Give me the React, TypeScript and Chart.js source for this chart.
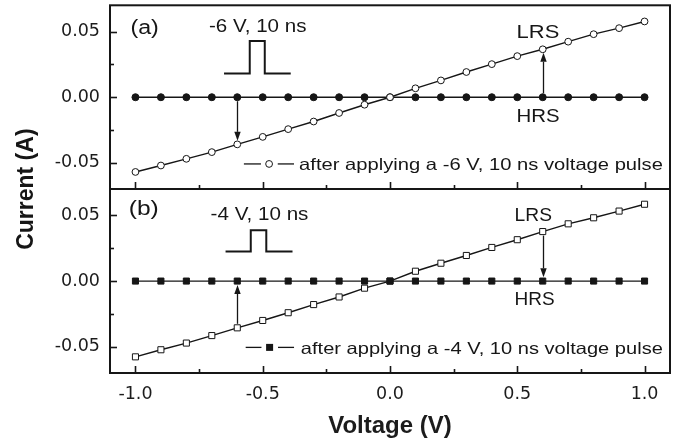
import React, { useEffect, useRef } from 'react';
import { Chart, registerables } from 'chart.js';

Chart.register(...registerables);

// ---------- data ----------
const voltage = [-1.0, -0.9, -0.8, -0.7, -0.6, -0.5, -0.4, -0.3, -0.2, -0.1, 0.0, 0.1, 0.2, 0.3, 0.4, 0.5, 0.6, 0.7, 0.8, 0.9, 1.0];
const lrsA = [-0.0569, -0.0520, -0.0469, -0.0418, -0.0359, -0.0302, -0.0243, -0.0185, -0.0120, -0.0057, 0.0000, 0.0068, 0.0128, 0.0192, 0.0252, 0.0313, 0.0365, 0.0423, 0.0480, 0.0526, 0.0577];
const hrsA = [0, 0, 0, 0, 0, 0, 0, 0, 0, 0, 0, 0, 0, 0, 0, 0, 0, 0, 0, 0, 0];
const lrsB = [-0.0577, -0.0523, -0.0472, -0.0415, -0.0356, -0.0300, -0.0241, -0.0179, -0.0121, -0.0054, 0.0000, 0.0075, 0.0136, 0.0195, 0.0256, 0.0315, 0.0377, 0.0436, 0.0482, 0.0533, 0.0585];
const hrsB = [0, 0, 0, 0, 0, 0, 0, 0, 0, 0, 0, 0, 0, 0, 0, 0, 0, 0, 0, 0, 0];
const pulseAX = [-0.652, -0.551, -0.551, -0.492, -0.492, -0.390];
const pulseAY = [0.018, 0.018, 0.0428, 0.0428, 0.018, 0.018];
const pulseBX = [-0.646, -0.547, -0.547, -0.486, -0.486, -0.383];
const pulseBY = [0.0225, 0.0225, 0.0387, 0.0387, 0.0225, 0.0225];
const xMajorTicks = [-1, -0.5, 0, 0.5, 1];
const xMinorTicks = [-0.75, -0.25, 0.25, 0.75];
const yMajorTicks = [-0.05, 0, 0.05];
const yMinorTicks = [-0.025, 0.025];
const arrowVoltages = [-0.6, 0.6];
const pulseLabelA = '-6 V, 10 ns';
const pulseLabelB = '-4 V, 10 ns';
const legendA = 'after applying a -6 V, 10 ns voltage pulse';
const legendB = 'after applying a -4 V, 10 ns voltage pulse';

const INK = '#161616';
const FONT = '"Liberation Sans", Arial, sans-serif';

const pts = (xs: number[], ys: number[]) => xs.map((x, i) => ({ x, y: ys[i] }));

const decorPlugin = {
  id: 'decor',
  afterDraw(chart: any) {
    const { ctx, chartArea: ca, scales } = chart;
    const sx = scales.x;
    const yA = scales.yA;
    const yB = scales.yB;
    const X = (v: number) => sx.getPixelForValue(v);
    ctx.save();
    ctx.strokeStyle = INK;
    ctx.fillStyle = INK;

    // ticks (inward)
    ctx.lineWidth = 1.6;
    const tick = (x1: number, y1: number, x2: number, y2: number) => {
      ctx.beginPath();
      ctx.moveTo(x1, y1);
      ctx.lineTo(x2, y2);
      ctx.stroke();
    };
    for (const p of [yA, yB]) {
      const bottom = Math.round(p.bottom);
      xMajorTicks.forEach((v) => { const px = Math.round(X(v)) + 0.5; tick(px, bottom, px, bottom - 7); });
      xMinorTicks.forEach((v) => { const px = Math.round(X(v)) + 0.5; tick(px, bottom, px, bottom - 4); });
      yMajorTicks.forEach((v) => { const py = Math.round(p.getPixelForValue(v)) + 0.5; tick(ca.left, py, ca.left + 7, py); });
      yMinorTicks.forEach((v) => { const py = Math.round(p.getPixelForValue(v)) + 0.5; tick(ca.left, py, ca.left + 4, py); });
    }

    // frame and divider
    ctx.lineWidth = 2;
    ctx.strokeRect(ca.left, ca.top, ca.right - ca.left, ca.bottom - ca.top);
    ctx.beginPath();
    ctx.moveTo(ca.left, Math.round(yA.bottom));
    ctx.lineTo(ca.right, Math.round(yA.bottom));
    ctx.stroke();

    // arrows
    const arrow = (px: number, y0: number, y1: number) => {
      const dir = Math.sign(y1 - y0);
      const head = 9;
      ctx.lineWidth = 1.3;
      ctx.beginPath();
      ctx.moveTo(px, y0);
      ctx.lineTo(px, y1 - dir * head);
      ctx.stroke();
      ctx.beginPath();
      ctx.moveTo(px, y1);
      ctx.lineTo(px - 3.2, y1 - dir * head);
      ctx.lineTo(px + 3.2, y1 - dir * head);
      ctx.closePath();
      ctx.fill();
    };
    arrowVoltages.forEach((v) => {
      const i = voltage.indexOf(v);
      const px = Math.round(X(v)) + 0.5;
      const hA = yA.getPixelForValue(hrsA[i]);
      const lA = yA.getPixelForValue(lrsA[i]);
      const dA = Math.sign(lA - hA);
      arrow(px, hA + dA * 4, lA - dA * 3.5);
      const hB = yB.getPixelForValue(hrsB[i]);
      const lB = yB.getPixelForValue(lrsB[i]);
      const dB = Math.sign(hB - lB);
      arrow(px, lB + dB * 4, hB - dB * 3.8);
    });

    // text fitted between two x values
    const text = (s: string, x0: number, x1: number, py: number, size: number, bold = false) => {
      ctx.save();
      ctx.font = `${bold ? 'bold ' : ''}${size}px ${FONT}`;
      ctx.textBaseline = 'alphabetic';
      ctx.textAlign = 'left';
      const left = X(x0);
      const w = X(x1) - left;
      const m = ctx.measureText(s).width;
      ctx.translate(left, py);
      ctx.scale(w / m, 1);
      ctx.fillText(s, 0, 0);
      ctx.restore();
    };
    text('(a)', -1.0197, -0.9083, yA.getPixelForValue(0.0482), 20);
    text(pulseLabelA, -0.7114, -0.3283, yA.getPixelForValue(0.05), 18.5);
    text('LRS', 0.4972, 0.665, yA.getPixelForValue(0.0449), 18.5);
    text('HRS', 0.4972, 0.6665, yA.getPixelForValue(-0.0192), 18.5);
    text(legendA, -0.3571, 1.072, yA.getPixelForValue(-0.0551), 16.5);
    text('(b)', -1.0264, -0.9083, yB.getPixelForValue(0.05), 20);
    text(pulseLabelB, -0.7047, -0.3205, yB.getPixelForValue(0.0464), 18.5);
    text('LRS', 0.4894, 0.6362, yB.getPixelForValue(0.0456), 18.5);
    text('HRS', 0.4894, 0.6469, yB.getPixelForValue(-0.0185), 18.5);
    text(legendB, -0.3504, 1.072, yB.getPixelForValue(-0.0556), 16.5);

    // legend symbols
    ctx.lineWidth = 1.3;
    const seg = (a: number, b: number, py: number) => {
      ctx.beginPath();
      ctx.moveTo(X(a), py);
      ctx.lineTo(X(b), py);
      ctx.stroke();
    };
    const lyA = yA.getPixelForValue(-0.0508);
    seg(-0.574, -0.507, lyA);
    seg(-0.441, -0.377, lyA);
    ctx.lineWidth = 1;
    ctx.beginPath();
    ctx.arc(X(-0.475), lyA, 3.4, 0, Math.PI * 2);
    ctx.fillStyle = '#fff';
    ctx.fill();
    ctx.stroke();
    ctx.fillStyle = INK;
    ctx.lineWidth = 1.3;
    const lyB = yB.getPixelForValue(-0.0505);
    seg(-0.567, -0.505, lyB);
    seg(-0.44, -0.377, lyB);
    ctx.fillRect(X(-0.473) - 3.5, lyB - 3.5, 7, 7);

    // y axis title
    ctx.save();
    ctx.font = `bold 23px ${FONT}`;
    ctx.textAlign = 'center';
    ctx.textBaseline = 'alphabetic';
    ctx.translate(33, (ca.top + ca.bottom) / 2);
    ctx.rotate(-Math.PI / 2);
    ctx.fillText('Current (A)', 0, 0);
    ctx.restore();

    ctx.restore();
  },
};

const yScale = () => ({
  type: 'linear',
  position: 'left',
  stack: 'panels',
  stackWeight: 1,
  min: -0.07,
  max: 0.07,
  grid: { display: false, drawTicks: false },
  border: { display: false },
  afterBuildTicks: (s: any) => { s.ticks = yMajorTicks.map((v) => ({ value: v })); },
  afterFit: (s: any) => { s.width = 110; s.paddingTop = 0; s.paddingBottom = 0; },
  ticks: {
    callback: (v: any) => Number(v).toFixed(2),
    font: { family: 'DejaVu Sans', size: 17.5 },
    color: '#1c1c1c',
    padding: 10,
  },
});

export default function App() {
  const ref = useRef<HTMLCanvasElement | null>(null);
  useEffect(() => {
    if (!ref.current) return;
    const lineBase = { borderColor: INK, borderWidth: 1.4, tension: 0, pointBorderColor: INK, pointBorderWidth: 1, pointHoverRadius: 0 };
    const chart = new Chart(ref.current, {
      type: 'line',
      data: {
        datasets: [
          { ...lineBase, label: 'LRS (a)', data: pts(voltage, lrsA), yAxisID: 'yA', pointStyle: 'circle', pointRadius: 3.4, pointBackgroundColor: '#fff', order: 0 },
          { ...lineBase, label: 'HRS (a)', data: pts(voltage, hrsA), yAxisID: 'yA', pointStyle: 'circle', pointRadius: 3.5, pointBackgroundColor: INK, order: 1 },
          { label: 'pulse (a)', data: pts(pulseAX, pulseAY), yAxisID: 'yA', borderColor: INK, borderWidth: 2, pointRadius: 0, tension: 0, order: 2 },
          { ...lineBase, label: 'HRS (b)', data: pts(voltage, hrsB), yAxisID: 'yB', pointStyle: 'rect', pointRadius: 4.3, pointBackgroundColor: INK, order: 0 },
          { ...lineBase, label: 'LRS (b)', data: pts(voltage, lrsB), yAxisID: 'yB', pointStyle: 'rect', pointRadius: 4.3, pointBackgroundColor: '#fff', order: 1 },
          { label: 'pulse (b)', data: pts(pulseBX, pulseBY), yAxisID: 'yB', borderColor: INK, borderWidth: 2, pointRadius: 0, tension: 0, order: 2 },
        ],
      },
      options: {
        responsive: false,
        animation: false,
        devicePixelRatio: 1,
        layout: { padding: { top: 5, right: 11, left: 0, bottom: 0 } },
        plugins: { legend: { display: false }, tooltip: { enabled: false } },
        events: [],
        scales: {
          x: {
            type: 'linear',
            min: -1.1,
            max: 1.1,
            position: 'bottom',
            grid: { display: false, drawTicks: false },
            border: { display: false },
            afterBuildTicks: (s: any) => { s.ticks = xMajorTicks.map((v) => ({ value: v })); },
            afterFit: (s: any) => { s.height = 69; s.paddingLeft = 0; s.paddingRight = 0; },
            ticks: {
              callback: (v: any) => Number(v).toFixed(1),
              font: { family: 'DejaVu Sans', size: 17.5 },
              color: '#1c1c1c',
              padding: 11,
              maxRotation: 0,
              autoSkip: false,
            },
            title: {
              display: true,
              text: 'Voltage (V)',
              font: { family: 'Liberation Sans', size: 24, weight: 'bold' },
              color: '#1c1c1c',
              padding: { top: 0, bottom: 1 },
            },
          },
          yB: yScale(),
          yA: yScale(),
        },
      } as any,
      plugins: [decorPlugin],
    });
    return () => chart.destroy();
  }, []);

  return (
    <div style={{ position: 'absolute', left: 0, top: 0, width: 681, height: 442, background: '#fff' }}>
      <canvas ref={ref} width={681} height={442} style={{ display: 'block' }} />
    </div>
  );
}
